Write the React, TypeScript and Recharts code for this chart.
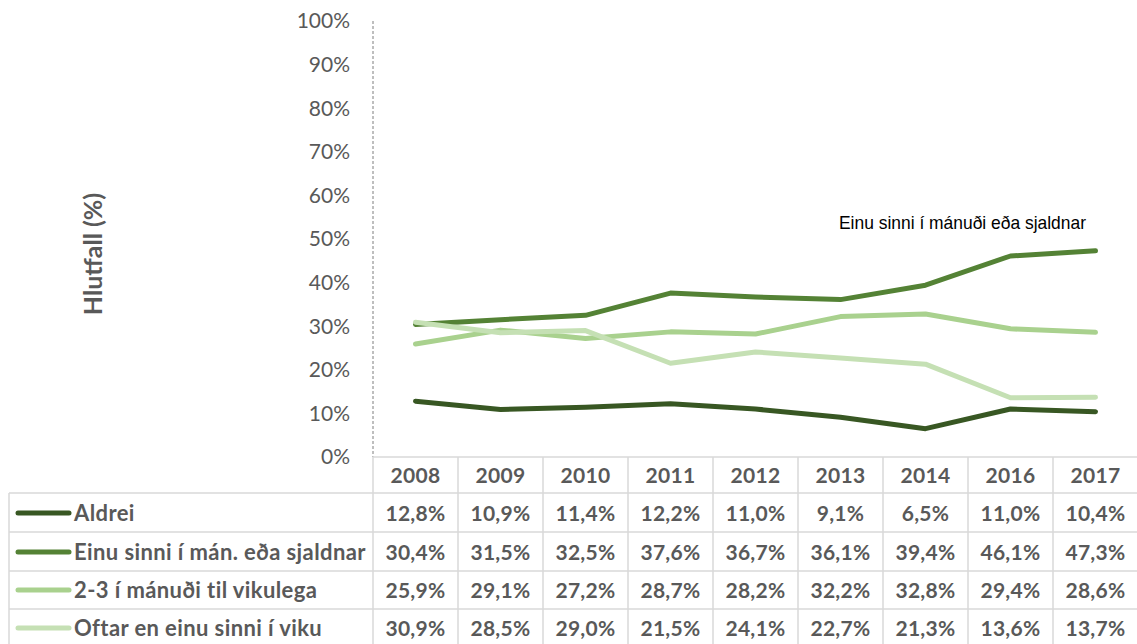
import React from 'react';
import { LineChart, Line, XAxis, YAxis, Customized } from 'recharts';

const years = ['2008', '2009', '2010', '2011', '2012', '2013', '2014', '2016', '2017'];
const aldrei = [12.8, 10.9, 11.4, 12.2, 11.0, 9.1, 6.5, 11.0, 10.4];
const einu = [30.4, 31.5, 32.5, 37.6, 36.7, 36.1, 39.4, 46.1, 47.3];
const tvoThrju = [25.9, 29.1, 27.2, 28.7, 28.2, 32.2, 32.8, 29.4, 28.6];
const oftar = [30.9, 28.5, 29.0, 21.5, 24.1, 22.7, 21.3, 13.6, 13.7];

const seriesKeys = ['aldrei', 'einu', 'tvoThrju', 'oftar'];
const seriesNames = [
  'Aldrei',
  'Einu sinni í mán. eða sjaldnar',
  '2-3 í mánuði til vikulega',
  'Oftar en einu sinni í viku',
];
const seriesValues = [aldrei, einu, tvoThrju, oftar];
const seriesColors = ['#385723', '#548235', '#A9D18E', '#C5E0B4'];
const yTicks = [0, 10, 20, 30, 40, 50, 60, 70, 80, 90, 100];
const yTitle = 'Hlutfall (%)';
const annotation = 'Einu sinni í mánuði eða sjaldnar';

const data = years.map((y, i) => {
  const row: any = { year: y };
  seriesKeys.forEach((k, s) => {
    row[k] = seriesValues[s][i];
  });
  return row;
});

const fmt = (v: number) => v.toFixed(1).replace('.', ',') + '%';

const GRID = '#D9D9D9';
const TEXT = '#595959';
const FONT = 'Lato';
const HALF = 42.5;
const ROW_LINES = [0, 36, 75, 114, 152, 190];
const ROW_CENTERS = [18, 56, 95, 133, 171];

const TableTick = (props: any) => {
  const { x, y, payload, index } = props;
  const i = payload && payload.index != null ? payload.index : index;
  const last = i === years.length - 1;
  return (
    <g>
      <line x1={x - HALF} x2={x - HALF} y1={y} y2={y + 190} stroke={GRID} strokeWidth={1.5} />
      {last && <line x1={x + HALF} x2={x + HALF} y1={y} y2={y + 190} stroke={GRID} strokeWidth={1.5} />}
      {ROW_LINES.slice(0, 5).map((r, k) => (
        <line key={k} x1={x - HALF} x2={x + HALF} y1={y + r} y2={y + r} stroke={GRID} strokeWidth={1.5} />
      ))}
      <text
        x={x}
        y={y + ROW_CENTERS[0] + 7.5}
        textAnchor="middle"
        fill={TEXT}
        fontFamily={FONT}
        fontWeight="bold"
        fontSize={21}
        letterSpacing={0.3}
      >
        {payload.value}
      </text>
      {seriesValues.map((vals, s) => (
        <text
          key={s}
          x={x}
          y={y + ROW_CENTERS[s + 1] + 7.5}
          textAnchor="middle"
          fill={TEXT}
          fontFamily={FONT}
          fontWeight="bold"
          fontSize={21}
          letterSpacing={0.3}
        >
          {fmt(vals[i])}
        </text>
      ))}
    </g>
  );
};

const Extras = () => (
  <g>
    {[493, 532, 571, 609].map((yy, k) => (
      <line key={k} x1={9} x2={373} y1={yy} y2={yy} stroke={GRID} strokeWidth={1.5} />
    ))}
    <line x1={9} x2={9} y1={493} y2={647} stroke={GRID} strokeWidth={1.5} />
    {seriesNames.map((n, s) => (
      <g key={s}>
        <line
          x1={18}
          x2={69}
          y1={457 + ROW_CENTERS[s + 1]}
          y2={457 + ROW_CENTERS[s + 1]}
          stroke={seriesColors[s]}
          strokeWidth={5}
          strokeLinecap="round"
        />
        <text
          x={74}
          y={457 + ROW_CENTERS[s + 1] + 8}
          fill={TEXT}
          fontFamily={FONT}
          fontWeight="bold"
          fontSize={22}
          letterSpacing={0.4}
        >
          {n}
        </text>
      </g>
    ))}
    <text
      x={0}
      y={0}
      transform="translate(102,254) rotate(-90)"
      textAnchor="middle"
      fill={TEXT}
      fontFamily={FONT}
      fontWeight="bold"
      fontSize={25}
    >
      {yTitle}
    </text>
    <text
      x={839}
      y={229}
      fill="#000000"
      fontFamily="Liberation Sans"
      fontSize={19}
      textLength={247}
      lengthAdjust="spacingAndGlyphs"
    >
      {annotation}
    </text>
  </g>
);

export default function App() {
  return (
    <div
      style={{
        position: 'absolute',
        left: 0,
        top: 0,
        width: 1137,
        height: 644,
        overflow: 'hidden',
        background: '#ffffff',
        fontFamily: FONT,
      }}
    >
      <LineChart width={1140} height={647} data={data} margin={{ top: 21, right: 2, left: 293, bottom: 0 }}>
        <YAxis
          width={80}
          domain={[0, 100]}
          ticks={yTicks}
          interval={0}
          tickFormatter={(v: number) => v + '%'}
          tickLine={false}
          tickSize={0}
          tickMargin={23}
          axisLine={{ stroke: '#7F7F7F', strokeDasharray: '3 2', strokeWidth: 1 }}
          tick={{ fill: TEXT, fontSize: 21, fontFamily: FONT }}
        />
        <XAxis
          dataKey="year"
          scale="band"
          height={190}
          interval={0}
          axisLine={false}
          tickLine={false}
          tickSize={0}
          tickMargin={0}
          tick={(p: any) => <TableTick {...p} />}
        />
        {seriesKeys.map((k, s) => (
          <Line
            key={k}
            dataKey={k}
            stroke={seriesColors[s]}
            strokeWidth={5}
            strokeLinecap="round"
            strokeLinejoin="round"
            dot={false}
            activeDot={false}
            isAnimationActive={false}
          />
        ))}
        <Customized component={<Extras />} />
      </LineChart>
    </div>
  );
}
